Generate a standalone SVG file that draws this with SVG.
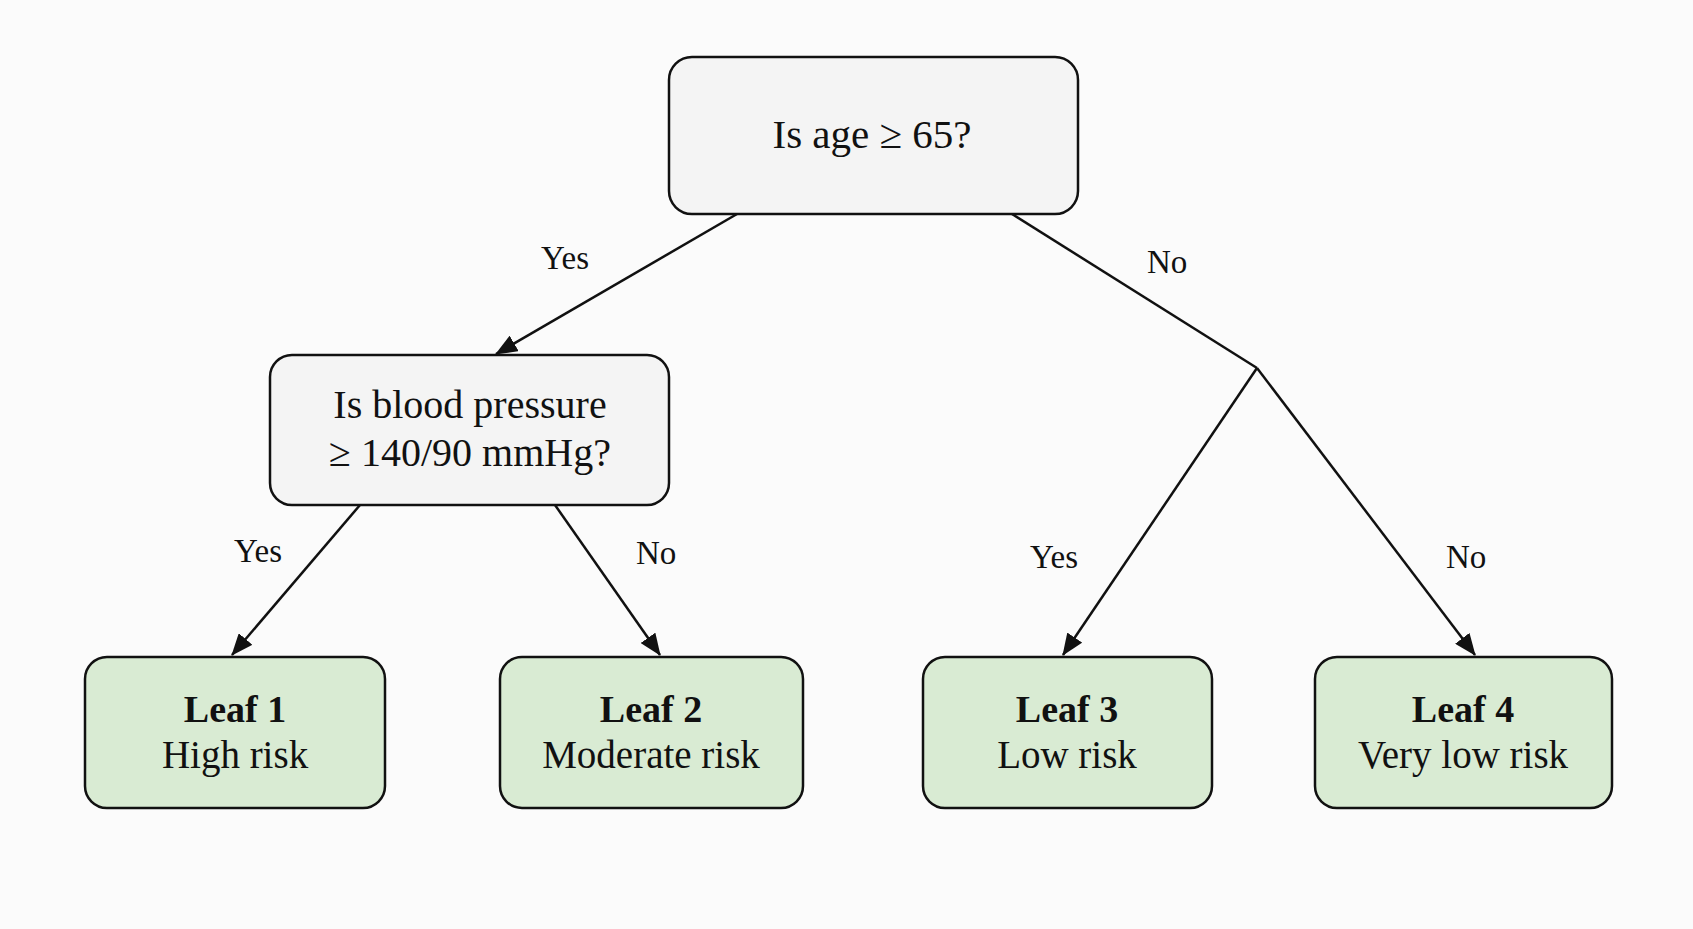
<svg xmlns="http://www.w3.org/2000/svg" width="1693" height="929" viewBox="0 0 1693 929">
  <style>
    .q { fill: #f4f4f4; stroke: #111; stroke-width: 2.5; }
    .leaf { fill: #d9ebd3; stroke: #111; stroke-width: 2.5; }
    .t { font-family: "Liberation Serif", "Times New Roman", serif; fill: #111; text-anchor: middle; }
    .lbl { font-family: "Liberation Serif", "Times New Roman", serif; fill: #111; font-size: 33px; }
    .edge { fill: none; stroke: #111; stroke-width: 2.5; }
  </style>
  <defs>
    <marker id="arrow" markerUnits="userSpaceOnUse" markerWidth="22" markerHeight="18" viewBox="0 0 22 18" refX="21" refY="9" orient="auto">
      <path d="M0,0 L22,9 L0,18 Z" fill="#111"/>
    </marker>
  </defs>
  <rect x="0" y="0" width="1693" height="929" fill="#fbfbfb"/>

  <g id="connectors">
    <line class="edge" x1="737" y1="214" x2="496" y2="354" marker-end="url(#arrow)"/>
    <polyline class="edge" points="1012,214 1257,368"/>
    <line class="edge" x1="1257" y1="368" x2="1063" y2="655" marker-end="url(#arrow)"/>
    <line class="edge" x1="1257" y1="368" x2="1475" y2="655" marker-end="url(#arrow)"/>
    <line class="edge" x1="360" y1="505" x2="232" y2="655" marker-end="url(#arrow)"/>
    <line class="edge" x1="555" y1="505" x2="660" y2="655" marker-end="url(#arrow)"/>
    <text class="lbl" x="541" y="269">Yes</text>
    <text class="lbl" x="1147" y="273">No</text>
    <text class="lbl" x="234" y="562">Yes</text>
    <text class="lbl" x="636" y="564">No</text>
    <text class="lbl" x="1030" y="568">Yes</text>
    <text class="lbl" x="1446" y="568">No</text>
  </g>

  <g id="root">
    <rect class="q" x="669" y="57" width="409" height="157" rx="23"/>
    <text class="t" x="872" y="148" font-size="41">Is age ≥ 65?</text>
  </g>

  <g id="bp">
    <rect class="q" x="270" y="355" width="399" height="150" rx="22"/>
    <text class="t" x="470" y="418" font-size="40">Is blood pressure</text>
    <text class="t" x="470" y="466" font-size="40">≥ 140/90 mmHg?</text>
  </g>

  <g id="leaf1">
    <rect class="leaf" x="85" y="657" width="300" height="151" rx="22"/>
    <text class="t" x="235" y="722" font-size="38" font-weight="bold">Leaf 1</text>
    <text class="t" x="235" y="768" font-size="39">High risk</text>
  </g>

  <g id="leaf2">
    <rect class="leaf" x="500" y="657" width="303" height="151" rx="22"/>
    <text class="t" x="651" y="722" font-size="38" font-weight="bold">Leaf 2</text>
    <text class="t" x="651" y="768" font-size="39">Moderate risk</text>
  </g>

  <g id="leaf3">
    <rect class="leaf" x="923" y="657" width="289" height="151" rx="22"/>
    <text class="t" x="1067" y="722" font-size="38" font-weight="bold">Leaf 3</text>
    <text class="t" x="1067" y="768" font-size="39">Low risk</text>
  </g>

  <g id="leaf4">
    <rect class="leaf" x="1315" y="657" width="297" height="151" rx="22"/>
    <text class="t" x="1463" y="722" font-size="38" font-weight="bold">Leaf 4</text>
    <text class="t" x="1463" y="768" font-size="39">Very low risk</text>
  </g>
</svg>
